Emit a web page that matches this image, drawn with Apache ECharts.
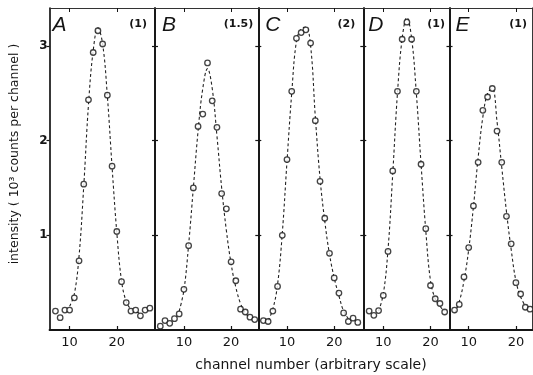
<!DOCTYPE html>
<html><head><meta charset="utf-8">
<script src="https://cdn.jsdelivr.net/npm/echarts@6/dist/echarts.min.js"></script>
<style>html,body{margin:0;padding:0;background:#fff}#c{width:533px;height:375px}</style>
</head><body><div id="c"></div>
<script>
// ---- data ----
const panelNames = ['A', 'B', 'C', 'D', 'E'];
const scaleNotes = ['(1)', '(1.5)', '(2)', '(1)', '(1)'];
const xTickValues = [10, 20];
const yTickValues = [1, 2, 3];

const chanA = [7,8,9,10,11,12,13,14,15,16,17,18,19,20,21,22,23,24,25,26,27];
const valA  = [0.20,0.13,0.21,0.21,0.34,0.73,1.54,2.43,2.93,3.16,3.02,2.48,1.73,1.04,0.51,0.29,0.20,0.21,0.15,0.21,0.23];
const fitChanA = [10,11,12,13,14,15,16,17,18,19,20,21,22,23,24,25];
const fitA     = [0.25,0.38,0.78,1.52,2.38,2.95,3.19,3.02,2.47,1.72,1.03,0.52,0.30,0.22,0.19,0.18];

const chanB = [5,6,7,8,9,10,11,12,13,14,15,16,17,18,19,20,21,22,23,24,25];
const valB  = [0.04,0.10,0.07,0.12,0.17,0.43,0.89,1.50,2.15,2.28,2.82,2.42,2.14,1.44,1.28,0.72,0.52,0.22,0.19,0.135,0.11];
const fitChanB = [9,10,11,12,13,14,15,16,17,18,19,20,21,22,23,24];
const fitB     = [0.20,0.42,0.90,1.50,2.10,2.55,2.76,2.55,2.05,1.50,1.05,0.70,0.45,0.28,0.18,0.13];

const chanC = [5,6,7,8,9,10,11,12,13,14,15,16,17,18,19,20,21,22,23,24,25];
const valC  = [0.10,0.09,0.20,0.46,1.00,1.80,2.52,3.08,3.14,3.17,3.03,2.21,1.57,1.18,0.81,0.55,0.39,0.18,0.09,0.125,0.08];
const fitChanC = [6,7,8,9,10,11,12,13,14,15,16,17,18,19,20,21,22,23];
const fitC     = [0.10,0.22,0.48,1.02,1.78,2.50,3.05,3.18,3.20,3.00,2.25,1.60,1.15,0.80,0.55,0.36,0.20,0.12];

const chanD = [7,8,9,10,11,12,13,14,15,16,17,18,19,20,21,22,23];
const valD  = [0.20,0.155,0.205,0.365,0.83,1.68,2.52,3.07,3.25,3.07,2.52,1.75,1.07,0.47,0.33,0.28,0.19];
const fitChanD = [9,10,11,12,13,14,15,16,17,18,19,20,21,22,23];
const fitD     = [0.20,0.38,0.85,1.65,2.50,3.08,3.30,3.08,2.50,1.75,1.05,0.52,0.33,0.25,0.20];

const chanE = [7,8,9,10,11,12,13,14,15,16,17,18,19,20,21,22,23];
const valE  = [0.21,0.27,0.56,0.87,1.31,1.77,2.32,2.46,2.55,2.10,1.77,1.20,0.91,0.50,0.38,0.24,0.22];
const fitChanE = [7,8,9,10,11,12,13,14,15,16,17,18,19,20,21,22];
const fitE     = [0.18,0.30,0.52,0.85,1.30,1.82,2.25,2.50,2.55,2.20,1.72,1.25,0.85,0.52,0.35,0.25];

const pointChans = [chanA, chanB, chanC, chanD, chanE];
const pointVals  = [valA, valB, valC, valD, valE];
const fitChans   = [fitChanA, fitChanB, fitChanC, fitChanD, fitChanE];
const fitVals    = [fitA, fitB, fitC, fitD, fitE];

// ---- layout ----
const dividersPx = [49.5, 155, 258.3, 363.3, 449.5, 533];
const tick10Px = [69.6, 183.9, 287, 383.3, 468.7];
const pxPerChannel = 4.72;
const plotTop = 8, plotHeight = 322;
const yMax = 3.4;
const ink = '#151515';
const font = 'DejaVu Sans';

const grids = [], xAxes = [], yAxes = [], series = [], graphics = [];
const letterOffsets = [3, 7, 7, 5, 6];
const noteInsets = [8, 5, 8, 4.5, 6];

for (let i = 0; i < 5; i++) {
  const left = dividersPx[i], right = dividersPx[i + 1];
  grids.push({ left: left, top: plotTop, width: right - left, height: plotHeight });
  const xmin = 10 - (tick10Px[i] - left) / pxPerChannel;
  const xmax = 10 + (right - tick10Px[i]) / pxPerChannel;
  xAxes.push({
    gridIndex: i, type: 'value', position: 'bottom', min: xmin, max: xmax,
    axisLine: { show: true, onZero: false, lineStyle: { color: ink, width: 1.8 } },
    axisTick: { show: true, inside: true, length: 4, customValues: xTickValues, lineStyle: { color: ink, width: 1.2 } },
    axisLabel: { show: true, customValues: xTickValues, margin: 6, fontSize: 13, color: ink, fontFamily: font },
    splitLine: { show: false }
  });
  xAxes.push({
    gridIndex: i, type: 'value', position: 'top', min: xmin, max: xmax,
    axisLine: { show: true, onZero: false, lineStyle: { color: '#333', width: 1 } },
    axisTick: { show: true, inside: true, length: 4, customValues: xTickValues, lineStyle: { color: ink, width: 1 } },
    axisLabel: { show: false },
    splitLine: { show: false }
  });
  yAxes.push({
    gridIndex: i, type: 'value', position: 'left', min: 0, max: yMax,
    axisLine: { show: true, onZero: false, lineStyle: { color: ink, width: 1.7 } },
    axisTick: { show: true, inside: false, length: 3, customValues: yTickValues, lineStyle: { color: ink, width: 1.2 } },
    axisLabel: i === 0 ? { show: true, customValues: yTickValues, margin: 2, fontSize: 12, fontWeight: 'bold', color: ink, fontFamily: font } : { show: false },
    splitLine: { show: false }
  });
  yAxes.push({
    gridIndex: i, type: 'value', position: 'right', min: 0, max: yMax,
    axisLine: { show: true, onZero: false, lineStyle: { color: ink, width: 1.7 } },
    axisTick: { show: true, inside: false, length: 3, customValues: yTickValues, lineStyle: { color: ink, width: 1.2 } },
    axisLabel: { show: false },
    splitLine: { show: false }
  });
  series.push({
    type: 'line', xAxisIndex: 2 * i, yAxisIndex: 2 * i,
    data: fitChans[i].map((c, k) => [c, fitVals[i][k]]),
    smooth: 0.4, symbol: 'none', silent: true, z: 2,
    lineStyle: { color: '#222', width: 1.1, type: [3, 2.5] }
  });
  series.push({
    type: 'scatter', xAxisIndex: 2 * i, yAxisIndex: 2 * i,
    data: pointChans[i].map((c, k) => [c, pointVals[i][k]]),
    symbol: 'circle', symbolSize: 5.5, silent: true, z: 3,
    itemStyle: { color: '#fff', borderColor: ink, borderWidth: 1.3 }
  });
  graphics.push({
    type: 'text', left: left + letterOffsets[i], top: 15,
    style: { text: panelNames[i], font: 'italic 21px "Liberation Sans"', fill: ink }
  });
  graphics.push({
    type: 'text', right: 533 - right + noteInsets[i], top: 19,
    style: { text: scaleNotes[i], font: 'bold 11px "DejaVu Sans"', fill: ink }
  });
}

graphics.push({
  type: 'text', x: 15, y: 154, rotation: Math.PI / 2,
  style: { text: 'intensity ( 10³ counts per channel )', font: '12.5px "DejaVu Sans"', fill: ink, align: 'center', verticalAlign: 'middle' }
});
graphics.push({
  type: 'text', x: 311, y: 365,
  style: { text: 'channel number (arbitrary scale)', font: '14px "DejaVu Sans"', fill: ink, align: 'center', verticalAlign: 'middle' }
});

const chart = echarts.init(document.getElementById('c'), null, { renderer: 'canvas' });
chart.setOption({
  animation: false,
  backgroundColor: '#fff',
  grid: grids, xAxis: xAxes, yAxis: yAxes, series: series, graphic: graphics
});
</script></body></html>
